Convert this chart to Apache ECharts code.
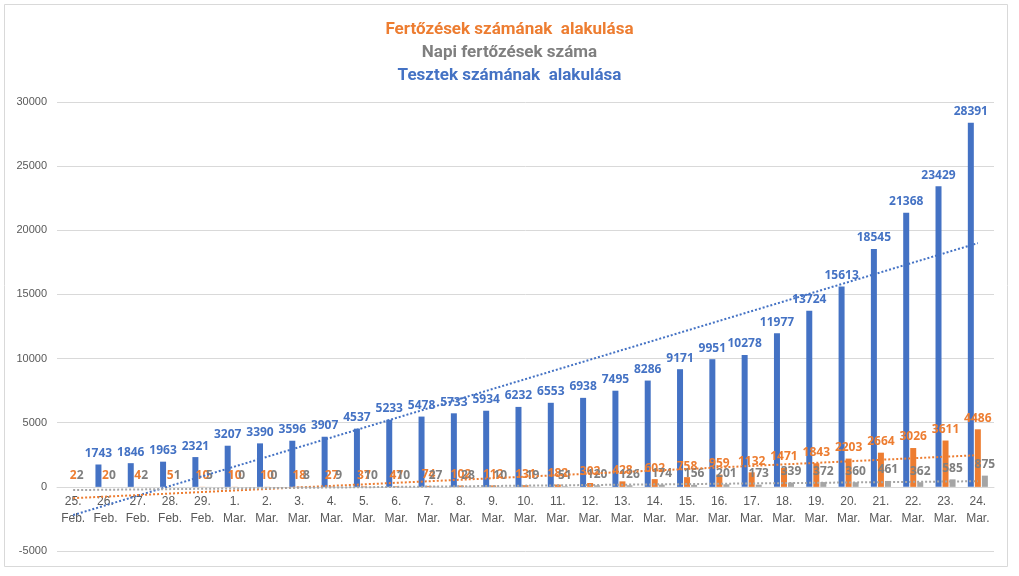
<!DOCTYPE html>
<html>
<head>
<meta charset="utf-8">
<script src="https://cdn.jsdelivr.net/npm/echarts@6/dist/echarts.min.js"></script>
<style>html,body{margin:0;padding:0;background:#fff;}#c{width:1019px;height:576px;}</style>
</head>
<body>
<div id="c"></div>
<script>
var categories = ["25.\nFeb.","26.\nFeb.","27.\nFeb.","28.\nFeb.","29.\nFeb.",
  "1.\nMar.","2.\nMar.","3.\nMar.","4.\nMar.","5.\nMar.","6.\nMar.","7.\nMar.","8.\nMar.","9.\nMar.","10.\nMar.",
  "11.\nMar.","12.\nMar.","13.\nMar.","14.\nMar.","15.\nMar.","16.\nMar.","17.\nMar.","18.\nMar.","19.\nMar.","20.\nMar.",
  "21.\nMar.","22.\nMar.","23.\nMar.","24.\nMar."];
var tests = [null,1743,1846,1963,2321,3207,3390,3596,3907,4537,5233,5478,5733,5934,6232,6553,6938,7495,8286,9171,9951,10278,11977,13724,15613,18545,21368,23429,28391];
var infections = [2,2,4,5,10,10,10,18,27,37,47,74,102,112,131,182,302,428,602,758,959,1132,1471,1843,2203,2664,3026,3611,4486];
var daily = [2,0,2,1,5,0,0,8,9,10,10,27,28,10,19,51,120,126,174,156,201,173,339,372,360,461,362,585,875];
// trendline endpoints [categoryIndex, value]
var testsTrend = [[0,-2200],[28,19000]];
var infectionsTrend = [[0,-880],[28,2470]];
var dailyTrend = [[0,-250],[28,440]];
var titles = ["Fertőzések számának  alakulása","Napi fertőzések száma","Tesztek számának  alakulása"];

var BLUE="#4472C4", ORANGE="#ED7D31", GRAY="#A5A5A5", GRAYTXT="#7F7F7F";
var chart = echarts.init(document.getElementById('c'));
function lbl(color){return {show:true,position:'top',distance:5,color:color,fontSize:12,fontWeight:'bold',fontFamily:'Open Sans'};}
function trend(data,color){return {type:'line',data:data,symbol:'none',silent:true,z:5,
  lineStyle:{color:color,width:2,type:[2,2]}};}
var tf = 'Liberation Sans Narrow, Roboto, sans-serif';
chart.setOption({
  animation:false,
  title:[
    {text:titles[0],left:'center',top:16,textStyle:{color:ORANGE,fontSize:17,fontWeight:'bold',fontFamily:tf}},
    {text:titles[1],left:'center',top:39,textStyle:{color:GRAYTXT,fontSize:17,fontWeight:'bold',fontFamily:tf}},
    {text:titles[2],left:'center',top:62,textStyle:{color:BLUE,fontSize:17,fontWeight:'bold',fontFamily:tf}}
  ],
  graphic:[{type:'rect',shape:{x:4.5,y:4.5,width:1003,height:562},style:{fill:null,stroke:'#d9d9d9',lineWidth:1},silent:true}],
  grid:{left:57,right:25,top:102,bottom:25,outerBoundsMode:'none',containLabel:false},
  xAxis:{type:'category',data:categories,offset:-64,
    axisLine:{onZero:false,lineStyle:{color:'#d9d9d9'}},axisTick:{show:false},
    axisLabel:{color:'#595959',fontSize:12,fontFamily:'Liberation Sans',lineHeight:17,margin:6,interval:0}},
  yAxis:{type:'value',min:-5000,max:30000,interval:5000,
    axisLine:{show:false},axisTick:{show:false},
    axisLabel:{color:'#595959',fontSize:11,fontFamily:'Liberation Sans',margin:10,formatter:function(v){return String(v);}},
    splitLine:{lineStyle:{color:'#d9d9d9'}}},
  series:[
    {type:'bar',data:tests,barWidth:6,barGap:'17%',itemStyle:{color:BLUE},label:lbl(BLUE)},
    {type:'bar',data:infections,barWidth:6,barGap:'17%',itemStyle:{color:ORANGE},label:lbl(ORANGE)},
    {type:'bar',data:daily,barWidth:6,barGap:'17%',itemStyle:{color:GRAY},label:lbl(GRAYTXT)},
    trend(testsTrend,BLUE),
    trend(infectionsTrend,ORANGE),
    trend(dailyTrend,GRAY)
  ]
});
</script>
</body>
</html>
